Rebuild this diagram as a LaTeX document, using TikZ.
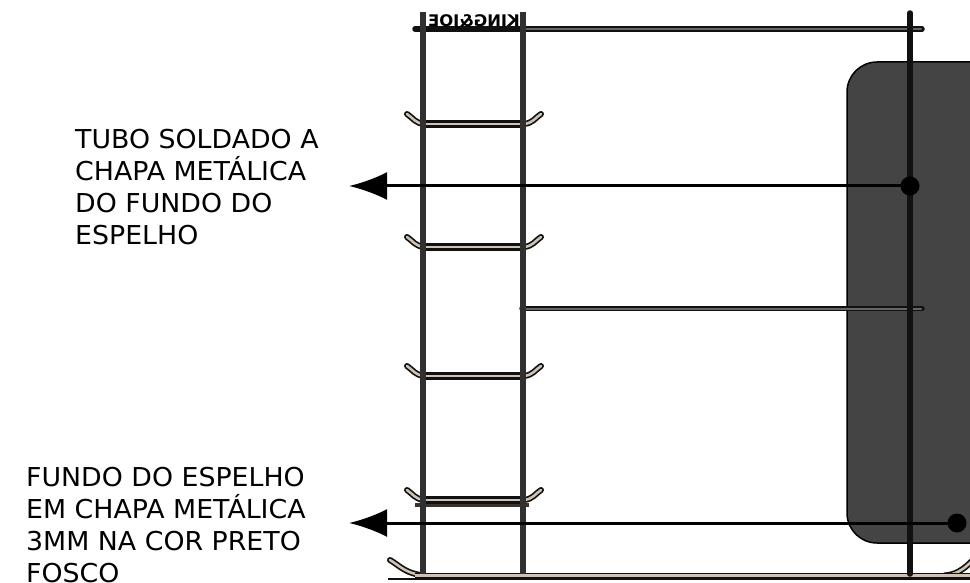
\documentclass[tikz,border=0pt]{standalone}
\usepackage{fontspec}
\setmainfont[FakeStretch=1.03]{DejaVu Sans}
\usetikzlibrary{arrows.meta}
\definecolor{rail}{HTML}{303030}
\definecolor{panel}{HTML}{444444}
\definecolor{tan}{HTML}{CDC2B4}
\definecolor{ink}{HTML}{111111}
\definecolor{grayin}{HTML}{666666}
\definecolor{brownbar}{HTML}{3A322C}
\tikzset{
  x=1pt,y=-1pt,
  railline/.style={rail,line width=6pt},
  thinbar/.style={line width=5.5pt,ink,line cap=round},
  thinbarin/.style={line width=2pt,grayin,line cap=round},
  rung/.style={line width=7.5pt,ink},
  rungin/.style={line width=2.6pt,tan},
  hook/.style={line width=6pt,ink,line cap=round},
  hookin/.style={line width=2.6pt,tan,line cap=round},
  post/.style={line width=5.5pt,ink,line cap=round},
  leader/.style={line width=3pt,black,-{Latex[length=38pt,width=28pt]}},
  dot/.style={circle,fill=black,inner sep=0pt,minimum size=19pt},
  callout/.style={align=left,anchor=north west,inner sep=0pt,font=\fontsize{26}{32}\selectfont,black},
}
\newcommand{\rungat}[1]{%
  \draw[hook] (424,#1+2) .. controls (415,#1+1) and (413,#1-4) .. (407,#1-8);
  \draw[hookin] (424,#1+2) .. controls (415,#1+1) and (413,#1-4) .. (407,#1-8);
  \draw[hook] (524,#1+2) .. controls (533,#1+1) and (535,#1-4) .. (541,#1-8);
  \draw[hookin] (524,#1+2) .. controls (533,#1+1) and (535,#1-4) .. (541,#1-8);
  \draw[rung] (423,#1+2) -- (523,#1+2);
  \draw[rungin] (423,#1+2) -- (523,#1+2);
}
\begin{document}
\begin{tikzpicture}
\useasboundingbox (0,0) rectangle (970,583);
% panel
\fill[panel,draw=black,line width=1.5pt,rounded corners=30pt] (847,62) rectangle (1010,543);
% base
\draw[hook] (390,560) .. controls (400,566) and (406,574) .. (425,575.5);
\draw[hookin] (390,560) .. controls (400,566) and (406,574) .. (425,575.5);
\draw[line width=6pt,ink] (944,575.5) .. controls (955,575) and (963,570) .. (972,561);
\draw[line width=2.6pt,tan] (944,575.5) .. controls (955,575) and (963,570) .. (972,561);
\draw[line width=6pt,ink] (415,575.5) -- (970,575.5);
\draw[line width=2.8pt,tan] (415,575.5) -- (970,575.5);
\draw[line width=2pt,ink] (388,578.5) -- (970,578.5);
% top bar
\draw[thinbar] (415,29) -- (922,29);
\draw[thinbarin] (525,29) -- (921,29);
% middle bar
\draw[thinbar] (522,308.5) -- (922,308.5);
\draw[thinbarin] (526,308.5) -- (921,308.5);
% rungs
\rungat{122}
\rungat{245}
\rungat{374}
\draw[line width=4.5pt,brownbar] (415,505) -- (529,505);
\rungat{498}
% rails
\draw[railline] (423,12) -- (423,574);
\draw[railline] (523,12) -- (523,574);
\node[inner sep=0pt,anchor=center] (brand) at (474,22.5) {\scalebox{-1}[1]{\fontsize{16}{16}\selectfont\bfseries KING\&JOE}};
% post
\draw[post] (910,13) -- (910,574);
% callouts
\node[callout] (t1) at (75,129.5) {TUBO SOLDADO A\\CHAPA METÁLICA\\DO FUNDO DO\\ESPELHO};
\node[callout] (t2) at (26,467) {FUNDO DO ESPELHO\\EM CHAPA METÁLICA\\3MM NA COR PRETO\\FOSCO};
\node[dot] (d1) at (910,186) {};
\node[dot] (d2) at (957,523) {};
\coordinate (e1) at (349,186);
\coordinate (e2) at (349,523);
\draw[leader] (d1.center) -- (e1);
\draw[leader] (d2.center) -- (e2);
\end{tikzpicture}
\end{document}
